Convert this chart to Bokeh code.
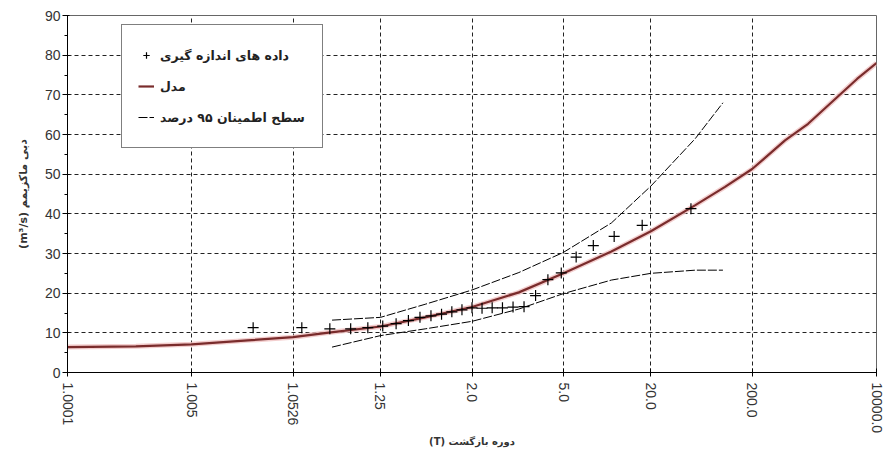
from statistics import NormalDist
from bokeh.plotting import figure
from bokeh.models import FixedTicker, Legend, LegendItem
from bokeh.embed import file_html
from bokeh.resources import INLINE

# ---- data (return period T, discharge m3/s) ----
tick_periods = [1.0001, 1.005, 1.0526, 1.25, 2.0, 5.0, 20.0, 200.0, 10000.0]
tick_labels = ["1.0001", "1.005", "1.0526", "1.25", "2.0", "5.0", "20.0", "200.0", "10000.0"]
y_ticks = [0, 10, 20, 30, 40, 50, 60, 70, 80, 90]
y_minor = [5, 15, 25, 35, 45, 55, 65, 75, 85]

obs_period = [1.0226, 1.0625, 1.1057, 1.1525, 1.2035, 1.2593, 1.3204, 1.3878, 1.4624,
              1.5455, 1.6386, 1.7436, 1.8630, 2.0, 2.1587, 2.3448, 2.5660, 2.8333,
              3.1628, 3.5789, 4.1212, 4.8571, 5.9130, 7.5556, 10.4615, 17.0, 45.333]
obs_flow = [11.3, 11.3, 11.0, 11.0, 11.3, 11.7, 12.3, 13.1, 13.9,
            14.3, 14.7, 15.3, 15.8, 16.3, 16.2, 16.3, 16.3, 16.5,
            16.6, 19.4, 23.4, 25.1, 29.1, 32.0, 34.3, 37.1, 41.3]

model_period = [1.0001, 1.001, 1.005, 1.02, 1.0526, 1.1, 1.25, 1.5, 2.0, 3.0, 5.0,
                10.0, 20.0, 50.0, 100.0, 200.0, 500.0, 1000.0, 5000.0, 10000.0]
model_flow = [6.4, 6.6, 7.1, 8.1, 8.9, 10.0, 11.6, 13.9, 16.5, 20.2, 25.0,
              30.5, 35.6, 42.2, 46.8, 51.3, 58.5, 62.7, 74.0, 78.0]

upper_period = [1.11, 1.25, 1.5, 2.0, 3.0, 5.0, 10.0, 20.0, 50.0, 95.0]
upper_flow = [13.2, 13.9, 17.2, 20.8, 25.2, 30.3, 37.7, 47.0, 59.0, 68.0]

lower_period = [1.11, 1.25, 1.5, 2.0, 3.0, 5.0, 10.0, 20.0, 50.0, 95.0]
lower_flow = [6.4, 9.3, 11.0, 12.9, 16.0, 19.9, 23.3, 25.0, 25.8, 25.8]

legend_labels = ["داده های اندازه گیری", "مدل", "سطح اطمینان ۹۵ درصد"]
x_title = "(T) دوره بازگشت"
y_title = "(m³/s) دبی ماکزیمم"

# normal-probability (reduced variate) axis
_nd = NormalDist()


def to_z(periods):
    return [_nd.inv_cdf(1.0 - 1.0 / t) for t in periods]


tick_z = to_z(tick_periods)

p = figure(width=885, height=452, output_backend="svg", toolbar_location=None,
           x_range=(tick_z[0], tick_z[-1]), y_range=(0, 90),
           min_border_left=67, min_border_right=9, min_border_top=15, min_border_bottom=80,
           background_fill_color="white", border_fill_color="white")
p.outline_line_color = "#666666"
p.outline_line_width = 1

# grid
p.xgrid.ticker = FixedTicker(ticks=tick_z[1:-1])
p.ygrid.ticker = FixedTicker(ticks=y_ticks[1:-1])
for g in (p.xgrid, p.ygrid):
    g.grid_line_color = "#222222"
    g.grid_line_dash = "4 3"
    g.grid_line_width = 1

# x axis
p.xaxis.ticker = FixedTicker(ticks=tick_z)
p.xaxis.major_label_overrides = {z: lab for z, lab in zip(tick_z, tick_labels)}
p.xaxis.major_label_orientation = "vertical"
p.xaxis.major_label_text_font = "Liberation Sans"
p.xaxis.major_label_text_font_size = "14px"
p.xaxis.major_label_text_color = "#333333"
p.xaxis.major_label_standoff = 6
p.xaxis.major_tick_in = 4
p.xaxis.major_tick_out = 4
p.xaxis.minor_tick_line_color = None
p.xaxis.axis_label = x_title
p.xaxis.axis_label_text_font = "DejaVu Sans"
p.xaxis.axis_label_text_font_style = "bold"
p.xaxis.axis_label_text_font_size = "10px"
p.xaxis.axis_label_text_color = "#333333"
p.xaxis.axis_label_standoff = 0

# y axis
p.yaxis.ticker = FixedTicker(ticks=y_ticks, minor_ticks=y_minor)
p.yaxis.major_label_text_font = "Liberation Sans"
p.yaxis.major_label_text_font_size = "14px"
p.yaxis.major_label_text_color = "#333333"
p.yaxis.major_label_standoff = 2
p.yaxis.major_tick_in = 2
p.yaxis.major_tick_out = 5
p.yaxis.minor_tick_in = 0
p.yaxis.minor_tick_out = 3
p.yaxis.minor_tick_line_color = "black"
p.yaxis.axis_label = y_title
p.yaxis.axis_label_text_font = "DejaVu Sans"
p.yaxis.axis_label_text_font_style = "bold"
p.yaxis.axis_label_text_font_size = "11px"
p.yaxis.axis_label_text_color = "#333333"
p.yaxis.axis_label_standoff = 12
for ax in (p.xaxis, p.yaxis):
    ax.axis_line_color = "black"
    ax.major_tick_line_color = "black"

# confidence band lines
r_up = p.line(to_z(upper_period), upper_flow, line_color="black", line_width=1, line_dash="9 2")
r_lo = p.line(to_z(lower_period), lower_flow, line_color="black", line_width=1, line_dash="9 2")

# model curve (soft halo + core)
p.line(to_z(model_period), model_flow, line_color="#f0c2c2", line_width=5, line_alpha=0.8)
r_model = p.line(to_z(model_period), model_flow, line_color="#7a2c2c", line_width=2.2)

# observed data
r_obs = p.scatter(to_z(obs_period), obs_flow, marker="cross", size=11,
                  line_color="black", line_width=1.2)

legend = Legend(items=[LegendItem(label=legend_labels[0], renderers=[r_obs]),
                       LegendItem(label=legend_labels[1], renderers=[r_model]),
                       LegendItem(label=legend_labels[2], renderers=[r_up])],
                location=(54, 224))
legend.padding = 16
legend.spacing = 3
legend.label_height = 28
legend.glyph_height = 28
legend.glyph_width = 16
legend.label_standoff = 6
legend.label_width = 146
legend.label_text_font = "DejaVu Sans"
legend.label_text_font_style = "bold"
legend.label_text_font_size = "12.5px"
legend.label_text_color = "#222222"
legend.border_line_color = "black"
legend.border_line_width = 1
legend.background_fill_color = "white"
legend.background_fill_alpha = 1.0
p.add_layout(legend, "center")

open("out.html", "w").write(file_html(p, INLINE))
